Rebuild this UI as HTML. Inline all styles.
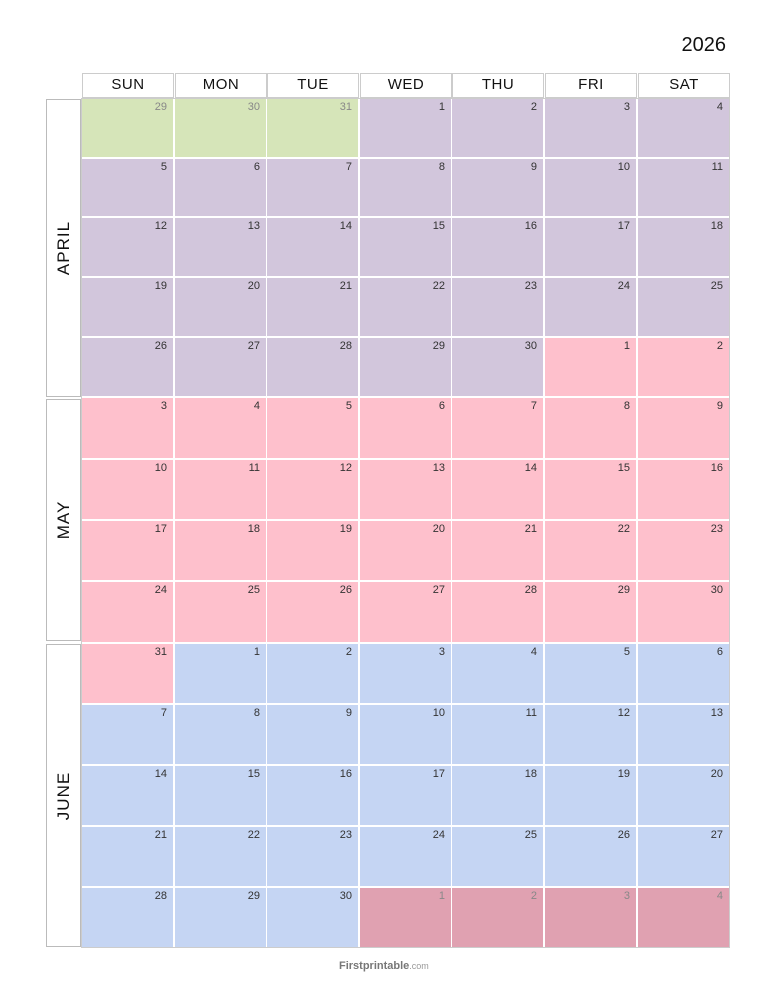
<!DOCTYPE html>
<html><head><meta charset="utf-8"><style>
body{margin:0;width:773px;height:1000px;background:#fff;position:relative;font-family:"Liberation Sans",sans-serif;overflow:hidden}
.a{position:absolute;box-sizing:border-box}
.h{border:1px solid #ccc;text-align:center;font-size:15px;line-height:22px;color:#111;letter-spacing:0.5px}
.c{text-align:right;font-size:11px;padding:2px 6px 0 0;color:#333}
.m{border:1px solid #bbb;background:#fff}
.m span{position:absolute;left:50%;top:50%;transform:translate(-50%,-50%) rotate(-90deg);font-size:17px;letter-spacing:1px;white-space:nowrap;color:#111}
</style></head><body>
<div class="a" style="left:660px;top:34px;width:66px;text-align:right;font-size:20px;color:#111">2026</div>
<div class="a" style="left:81px;top:98px;width:649px;height:850px;border:1px solid #ccc"></div>
<div class="a" style="left:339px;top:960px;font-size:11px;color:#777;font-weight:bold">Firstprintable<span style="font-weight:normal;font-size:9px;color:#999">.com</span></div>
<script>
const days=["SUN","MON","TUE","WED","THU","FRI","SAT"];
const colL=[82,175,267,360,452,545,638];
const rowT=[99,159,218,278,338,398,460,521,582,644,705,766,827,888,949];
const months=[["APRIL",99,397],["MAY",399,641],["JUNE",644,947]];
const colors={2:"#d6e5b9",3:"#d2c6dc",4:"#fec0cc",5:"#c5d5f3",6:"#e0a1b1"};
days.forEach((d,i)=>{const e=document.createElement('div');e.className='a h';


e.style.cssText=`left:${colL[i]}px;top:73px;width:92px;height:25px`;e.textContent=d;document.body.appendChild(e);});
months.forEach(m=>{const e=document.createElement('div');e.className='a m';


e.style.cssText=`left:46px;top:${m[1]}px;width:35px;height:${m[2]-m[1]}px`;e.innerHTML='<span>'+m[0]+'</span>';document.body.appendChild(e);});
let dt=new Date(2026,2,29);
for(let r=0;r<14;r++){for(let c=0;c<7;c++){
const mo=dt.getMonth();const e=document.createElement('div');e.className='a c';


e.style.cssText=`left:${colL[c]}px;top:${rowT[r]}px;width:91px;height:${rowT[r+1]-rowT[r]-2}px;background:${colors[mo]};color:${(mo==2||mo==6)?'#888':'#333'}`;
e.textContent=dt.getDate();document.body.appendChild(e);dt.setDate(dt.getDate()+1);}}
</script>
</body></html>
